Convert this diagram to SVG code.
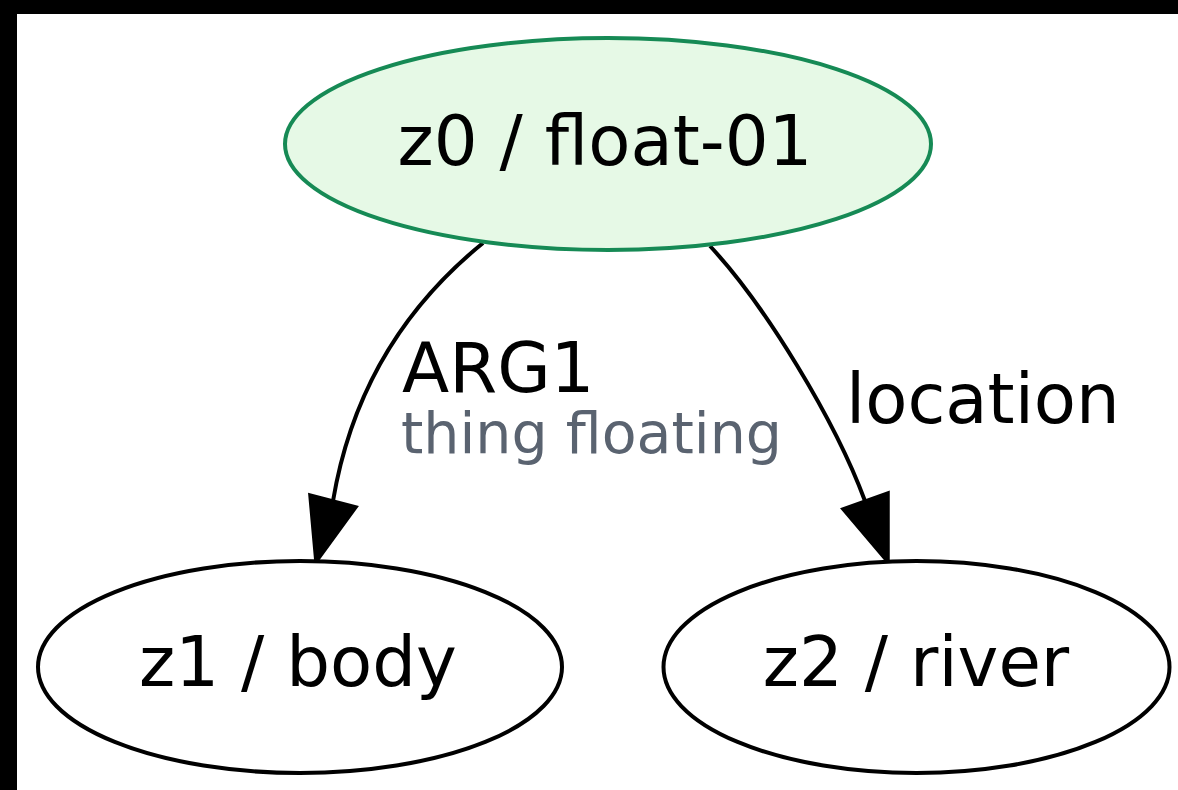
<svg xmlns="http://www.w3.org/2000/svg" width="1178" height="790" viewBox="0 0 1178 790">
<style>
.lbl{font-family:"DejaVu Sans",sans-serif;font-size:69px;fill:#000}
.sub{font-family:"DejaVu Sans",sans-serif;font-size:57px;fill:#5a6370}
.node{fill:#fff;stroke:#000;stroke-width:4}
.root{fill:#e6f9e6;stroke:#168a55;stroke-width:4}
.edge{fill:none;stroke:#000;stroke-width:4}
.head{fill:#000;stroke:#000;stroke-width:3.5}
</style>
<rect x="0" y="0" width="1178" height="790" fill="#000"/>
<rect x="17" y="14" width="1161" height="776" fill="#fff"/>
<g id="connectors">
<g id="e_z0_z1">
<path class="edge" d="M483,243 C425,290 355,370 333,501"/>
<polygon class="head" points="316,562 310,495 356,507"/>
<text class="lbl" x="402" y="392">ARG1</text>
<text class="sub" x="401" y="453">thing floating</text>
</g>
<g id="e_z0_z2">
<path class="edge" d="M710,246 C765,305 835,420 865,501"/>
<polygon class="head" points="888,562 843,509 888,493"/>
<text class="lbl" x="846" y="423">location</text>
</g>
</g>
<g id="z0">
<ellipse class="root" cx="608" cy="144" rx="323" ry="106"/>
<text class="lbl" x="605" y="165" text-anchor="middle">z0 / float-01</text>
</g>
<g id="z1">
<ellipse class="node" cx="300" cy="667" rx="262" ry="106"/>
<text class="lbl" x="298" y="686" text-anchor="middle">z1 / body</text>
</g>
<g id="z2">
<ellipse class="node" cx="916.5" cy="667" rx="253" ry="106"/>
<text class="lbl" x="916" y="686" text-anchor="middle">z2 / river</text>
</g>
</svg>
